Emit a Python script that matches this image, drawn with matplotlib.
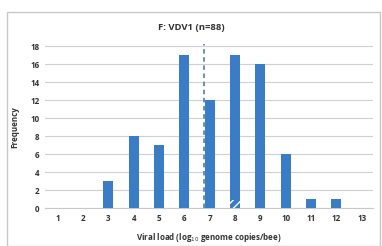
import matplotlib
matplotlib.use("Agg")
import matplotlib.pyplot as plt
from matplotlib.patches import Rectangle

categories = [1, 2, 3, 4, 5, 6, 7, 8, 9, 10, 11, 12, 13]
frequency = [0, 0, 3, 8, 7, 17, 12, 17, 16, 6, 1, 1, 0]
yticks = [0, 2, 4, 6, 8, 10, 12, 14, 16, 18]
median_line = 6.77
title = "F: VDV1 (n=88)"

plt.rcParams['font.family'] = ['Open Sans', 'DejaVu Sans']
fig = plt.figure(figsize=(3.82, 2.46), dpi=100)
fig.patches.append(Rectangle((7/382, 0.0), (380-7)/382, (246-12)/246, transform=fig.transFigure,
                             fill=False, edgecolor='#c8c8c8', linewidth=1.0))
ax = fig.add_axes([45/382, 38/246, (373-45)/382, (208-46)/246])
color = '#3a7dc6'
ax.bar(categories, frequency, width=0.4, color=color, zorder=3)
# hatched base of bar 8
ax.bar([8], [0.9], width=0.4, color=color, hatch='////', edgecolor='white', linewidth=0, zorder=4)
ax.axvline(median_line, ymax=1.01, color='#5a87b8', linestyle=(0, (2.5, 2)), linewidth=1.3,
           zorder=5, clip_on=False)
ax.set_xlim(0.5, 13.45)
ax.set_ylim(0, 18)
ax.set_yticks(yticks)
ax.set_xticks(categories)
ax.yaxis.grid(True, color='#d0d0d0', linewidth=0.8, zorder=0)
for s in ['top', 'right', 'left']:
    ax.spines[s].set_visible(False)
ax.spines['bottom'].set_color('#c8c8c8')
ax.tick_params(axis='both', length=0, labelsize=5.8, colors='#333333', pad=4)
for lab in ax.get_xticklabels() + ax.get_yticklabels():
    lab.set_fontweight('bold')
ax.set_ylabel('Frequency', fontsize=5.8, fontweight='bold', color='#333333', labelpad=8)
ax.set_xlabel(r'Viral load (log$_{10}$ genome copies/bee)', fontsize=5.8, fontweight='bold',
              color='#333333', labelpad=6)
fig.text(0.5, 1 - 27/246, title, ha='center', va='center', fontsize=6.8,
         fontweight='bold', color='#333333')
fig.savefig('out.png', dpi=100)
